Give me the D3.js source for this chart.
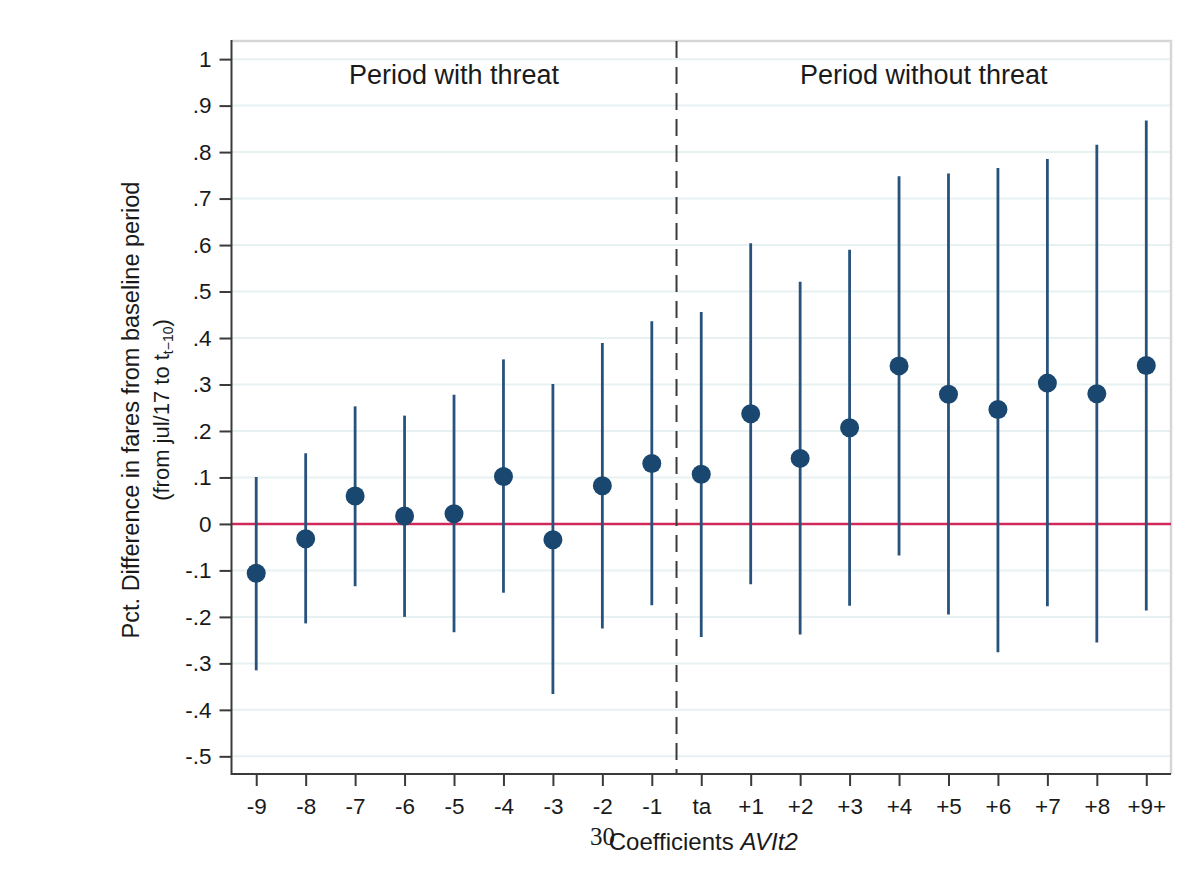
<!DOCTYPE html>
<html>
<head>
<meta charset="utf-8">
<script src="https://cdn.jsdelivr.net/npm/d3@7"></script>
<style>
  body { margin: 0; background: #fff; }
  svg text { font-family: "Liberation Sans", Arial, sans-serif; fill: #1a1a1a; }
</style>
</head>
<body>
<div id="chart"></div>
<script>
// data
const categories = ['-9', '-8', '-7', '-6', '-5', '-4', '-3', '-2', '-1', 'ta', '+1', '+2', '+3', '+4', '+5', '+6', '+7', '+8', '+9+']
const estimates = [-0.106, -0.032, 0.060, 0.017, 0.022, 0.102, -0.034, 0.082, 0.130, 0.107, 0.237, 0.141, 0.207, 0.340, 0.279, 0.246, 0.303, 0.280, 0.341]
const ciLow = [-0.315, -0.214, -0.134, -0.200, -0.233, -0.148, -0.366, -0.225, -0.175, -0.243, -0.130, -0.238, -0.176, -0.068, -0.195, -0.276, -0.177, -0.255, -0.186]
const ciHigh = [0.101, 0.152, 0.253, 0.233, 0.278, 0.354, 0.301, 0.389, 0.436, 0.456, 0.604, 0.521, 0.590, 0.748, 0.754, 0.766, 0.785, 0.816, 0.868]
const yTicks = [-0.5, -0.4, -0.3, -0.2, -0.1, 0, 0.1, 0.2, 0.3, 0.4, 0.5, 0.6, 0.7, 0.8, 0.9, 1]
const yTickLabels = ['-.5', '-.4', '-.3', '-.2', '-.1', '0', '.1', '.2', '.3', '.4', '.5', '.6', '.7', '.8', '.9', '1']
const periodLabels = ['Period with threat', 'Period without threat']

// canvas
const svgWidth = 1196
const svgHeight = 871
const plot = { left: 231.5, right: 1171, top: 41, bottom: 774 }

const svg = d3.select('#chart').append('svg').attr('width', svgWidth).attr('height', svgHeight)

// scales
const x = d3.scalePoint().domain(categories).range([plot.left, plot.right]).padding(0.5)
const y = d3.scaleLinear().domain([-0.538, 1.039]).range([plot.bottom, plot.top])

// gridlines
svg.append('g').selectAll('line').data(yTicks).enter().append('line')
  .attr('x1', plot.left).attr('x2', plot.right)
  .attr('y1', d => y(d)).attr('y2', d => y(d))
  .attr('stroke', '#e8f1f2').attr('stroke-width', 2)

// top and right frame
svg.append('path')
  .attr('d', `M${plot.left},${plot.top}H${plot.right}V${plot.bottom}`)
  .attr('fill', 'none').attr('stroke', '#d6d6d6').attr('stroke-width', 2.5)

// zero line
svg.append('line')
  .attr('x1', plot.left).attr('x2', plot.right)
  .attr('y1', y(0)).attr('y2', y(0))
  .attr('stroke', '#cf2a5a').attr('stroke-width', 2.5)

// divider between periods
const divX = (x('-1') + x('ta')) / 2
svg.append('line')
  .attr('x1', divX).attr('x2', divX).attr('y1', plot.top).attr('y2', plot.bottom)
  .attr('stroke', '#3a3a3a').attr('stroke-width', 2).attr('stroke-dasharray', '17,9')

// confidence intervals
svg.append('g').selectAll('line').data(categories).enter().append('line')
  .attr('x1', d => x(d)).attr('x2', d => x(d))
  .attr('y1', (d, i) => y(ciLow[i])).attr('y2', (d, i) => y(ciHigh[i]))
  .attr('stroke', '#27527c').attr('stroke-width', 2.8)

// point estimates
svg.append('g').selectAll('circle').data(categories).enter().append('circle')
  .attr('cx', d => x(d)).attr('cy', (d, i) => y(estimates[i]))
  .attr('r', 9.5).attr('fill', '#1a476f')

// axes
const leftAxis = d3.axisLeft(y).tickValues(yTicks).tickFormat((d, i) => yTickLabels[i]).tickSize(12).tickPadding(8)
const gLeft = svg.append('g').attr('transform', `translate(${plot.left},0)`).call(leftAxis)
gLeft.select('.domain').attr('d', `M0,${plot.top - 1}V${plot.bottom + 1}`)

const bottomAxis = d3.axisBottom(x).tickSize(12).tickPadding(12)
const gBottom = svg.append('g').attr('transform', `translate(0,${plot.bottom})`).call(bottomAxis)
gBottom.select('.domain').attr('d', `M${plot.left},0H${plot.right}`)

svg.selectAll('.domain').attr('stroke', '#3a3a3a').attr('stroke-width', 2)
svg.selectAll('.tick line').attr('stroke', '#3a3a3a').attr('stroke-width', 2)
svg.selectAll('.tick text').style('font-size', '22.5px').style('fill', '#1a1a1a')
  .style('font-family', '"Liberation Sans", Arial, sans-serif')

// period labels
svg.append('text').attr('x', (plot.left + divX) / 2).attr('y', 84)
  .attr('text-anchor', 'middle').style('font-size', '27px').text(periodLabels[0])
svg.append('text').attr('x', (divX + plot.right) / 2).attr('y', 84)
  .attr('text-anchor', 'middle').style('font-size', '27px').text(periodLabels[1])

// y title
const yTitle = svg.append('text').attr('transform', 'translate(139,410) rotate(-90)')
  .attr('text-anchor', 'middle').style('font-size', '23.5px')
yTitle.append('tspan').attr('x', 0).attr('y', 0).text('Pct. Difference in fares from baseline period')
const line2 = yTitle.append('tspan').attr('x', 0).attr('y', 30).style('font-size', '22px')
line2.append('tspan').text('(from jul/17 to t')
line2.append('tspan').style('font-size', '14px').attr('dy', 4).text('t\u221210')
line2.append('tspan').attr('dy', -4).text(')')

// x title
const xTitle = svg.append('text').attr('x', (plot.left + plot.right) / 2 + 2).attr('y', 850)
  .attr('text-anchor', 'middle').style('font-size', '24px')
xTitle.append('tspan').text('Coefficients ')
xTitle.append('tspan').attr('font-style', 'italic').text('AVIt2')

// page number overlapping the title
svg.append('text').attr('x', 590).attr('y', 845)
  .style('font-family', '"Liberation Serif", "DejaVu Serif", serif').style('font-size', '25px').text('30')
</script>
</body>
</html>
